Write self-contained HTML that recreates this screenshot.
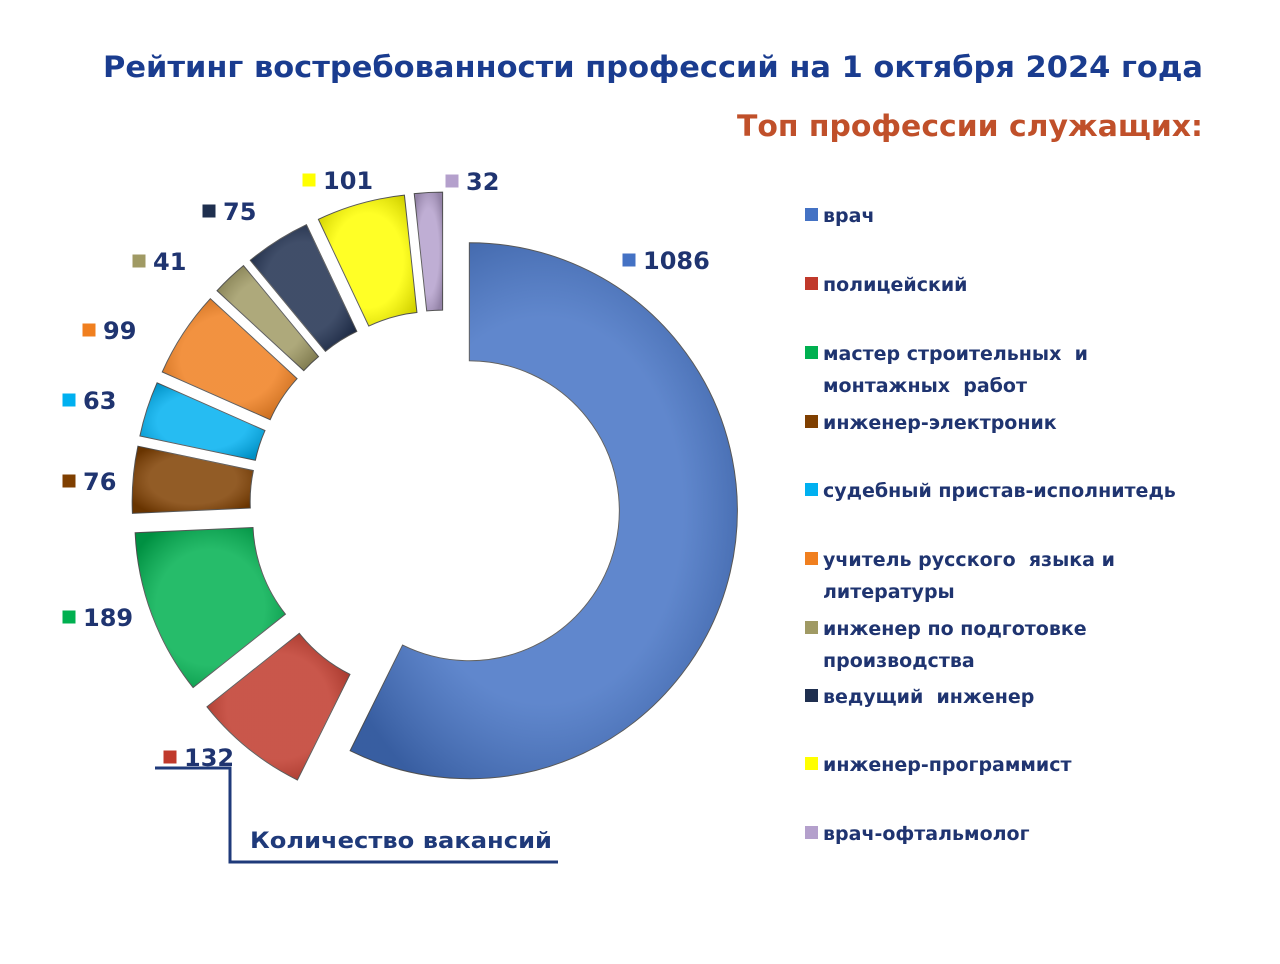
<!DOCTYPE html>
<html><head><meta charset="utf-8"><style>
body{margin:0;background:#fff;width:1280px;height:960px;overflow:hidden;font-family:"DejaVu Sans","Liberation Sans",sans-serif}
</style></head><body>
<svg width="1280" height="960" viewBox="0 0 1280 960" font-family="DejaVu Sans, Liberation Sans, sans-serif">
<defs>
<radialGradient id="shade" cx="0.5" cy="0.5" r="0.6"><stop offset="0.6" stop-color="#fff" stop-opacity="0.15"/><stop offset="1" stop-color="#000" stop-opacity="0.18"/></radialGradient>
</defs>
<text x="103" y="77" textLength="1100" lengthAdjust="spacingAndGlyphs" font-size="29" font-weight="bold" fill="#1a3c8f">Рейтинг востребованности профессий на 1 октября 2024 года</text>
<text x="737" y="136" textLength="466" lengthAdjust="spacingAndGlyphs" font-size="29" font-weight="bold" fill="#c0502a">Топ профессии служащих:</text>
<g id="donut"></g>
<g id="labels"></g>
<g id="legend"></g>
<polyline points="155,768 230,768 230,862 558,862" fill="none" stroke="#1f3a7a" stroke-width="3"/>
<text x="250" y="848" textLength="302" lengthAdjust="spacingAndGlyphs" font-size="22" font-weight="bold" fill="#1f3a7a">Количество вакансий</text>
</svg>
<script>
const categories=["врач","полицейский","мастер строительных  и|монтажных  работ","инженер-электроник","судебный пристав-исполнитедь","учитель русского  языка и|литературы","инженер по подготовке|производства","ведущий  инженер","инженер-программист","врач-офтальмолог"];
const values=[1086,132,189,76,63,99,41,75,101,32];
const colors=["#4472c4","#c0392b","#00b050","#7f3f00","#00b0f0","#f07f1f","#a09a64","#1f2f4f","#ffff00","#b4a0cc"];
const labelPos=[[622,260],[163,757],[62,617],[62,481],[62,400],[82,330],[132,261],[202,211],[302,180],[445,181]];
const legendY=[215,284,353,422,490,559,628,696,764,833];
const NS="http://www.w3.org/2000/svg";
const cx=445,cy=505,rIn=150,rOut=268;
const total=values.reduce((a,b)=>a+b,0);
function pt(a,r,ox,oy){return [ox+Math.sin(a)*r,oy-Math.cos(a)*r];}
const donut=document.getElementById('donut');
let acc=0;
values.forEach((v,i)=>{
  const a0=acc/total*2*Math.PI; acc+=v; const a1=acc/total*2*Math.PI;
  const mid=(a0+a1)/2, ex=i===0?25:45;
  const ox=cx+Math.sin(mid)*ex, oy=cy-Math.cos(mid)*ex;
  const large=(a1-a0)>Math.PI?1:0;
  const p1=pt(a0,rOut,ox,oy),p2=pt(a1,rOut,ox,oy),p3=pt(a1,rIn,ox,oy),p4=pt(a0,rIn,ox,oy);
  const d=`M${p1} A${rOut},${rOut} 0 ${large} 1 ${p2} L${p3} A${rIn},${rIn} 0 ${large} 0 ${p4} Z`;
  const p=document.createElementNS(NS,'path');
  p.setAttribute('d',d);p.setAttribute('fill',colors[i]);p.setAttribute('stroke','#555');p.setAttribute('stroke-width','1');
  
  
  donut.appendChild(p);
  const s=document.createElementNS(NS,'path');
  s.setAttribute('d',d);s.setAttribute('fill','url(#shade)');
  
  
  donut.appendChild(s);
});
const labels=document.getElementById('labels');
values.forEach((v,i)=>{
  const [x,y]=labelPos[i];
  const r=document.createElementNS(NS,'rect');
  r.setAttribute('x',x);r.setAttribute('y',y-7);r.setAttribute('width',14);r.setAttribute('height',14);r.setAttribute('fill',colors[i]);r.setAttribute('stroke','#fff');
  
  
  labels.appendChild(r);
  const t=document.createElementNS(NS,'text');
  t.setAttribute('x',x+21);t.setAttribute('y',y+9);t.setAttribute('font-size','24');t.setAttribute('font-weight','bold');t.setAttribute('fill','#1f3470');
  t.textContent=v;
  
  
  labels.appendChild(t);
});
const legend=document.getElementById('legend');
categories.forEach((c,i)=>{
  const y=legendY[i];
  const r=document.createElementNS(NS,'rect');
  r.setAttribute('x',805);r.setAttribute('y',y-7);r.setAttribute('width',13);r.setAttribute('height',13);r.setAttribute('fill',colors[i]);
  
  
  legend.appendChild(r);
  c.split('|').forEach((line,j)=>{
    const t=document.createElementNS(NS,'text');
    t.setAttribute('x',823);t.setAttribute('y',y+7+j*32);t.setAttribute('font-size','19');t.setAttribute('font-weight','bold');t.setAttribute('fill','#1f3470');
    t.setAttribute('style','white-space:pre');
    t.textContent=line;
    
    
    legend.appendChild(t);
  });
});
</script>
</body></html>
